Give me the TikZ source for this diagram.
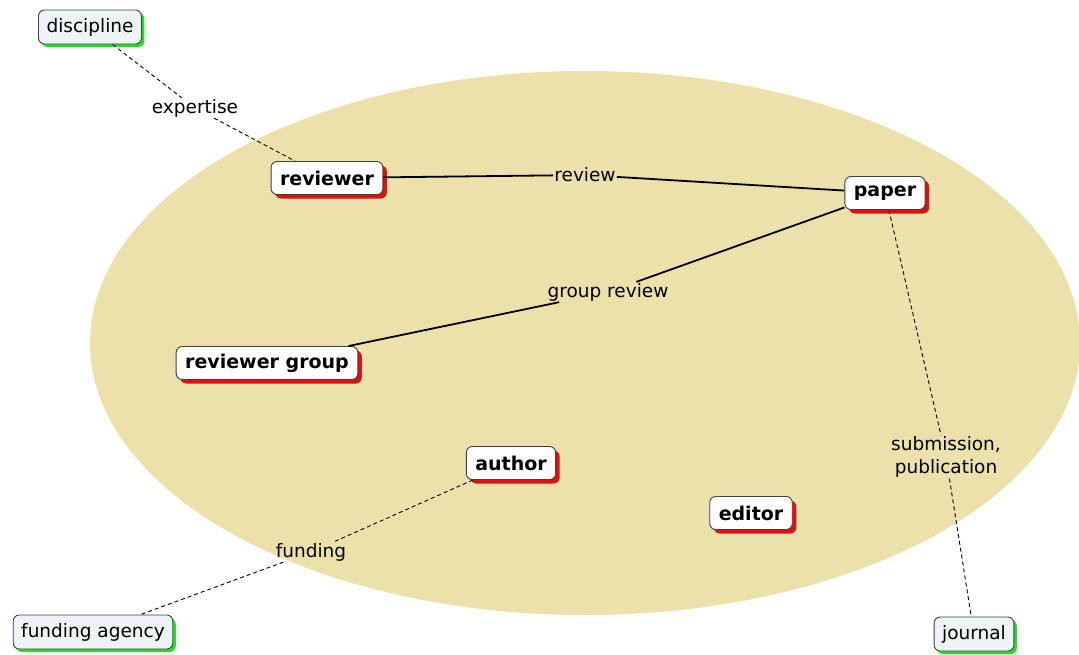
\documentclass[tikz,border=0pt]{standalone}
\usepackage{fontspec}
\setmainfont{DejaVu Sans}
\usetikzlibrary{shadows}
\definecolor{field}{HTML}{EDE1AB}
\definecolor{outerfill}{HTML}{EEF3F5}
\definecolor{edgegray}{HTML}{404040}
\definecolor{redshadow}{HTML}{E01010}
\definecolor{greenshadow}{HTML}{22E022}
\begin{document}
\begin{tikzpicture}[x=1pt,y=-1pt,
  every node/.style={font=\fontsize{18.5}{23}\selectfont},
  concept/.style={draw=edgegray, line width=0.9pt, rounded corners=6pt, fill=white,
    inner xsep=9pt, minimum height=33pt, font=\fontsize{19}{23}\selectfont\bfseries,
    drop shadow={fill=redshadow, opacity=1, shadow xshift=4pt, shadow yshift=-4pt}},
  external/.style={draw=edgegray, line width=0.9pt, rounded corners=6pt, fill=outerfill,
    inner xsep=8pt, minimum height=34pt,
    drop shadow={fill=greenshadow, opacity=1, shadow xshift=3pt, shadow yshift=-3pt}},
  linklabel/.style={inner sep=1pt, align=center},
  strong/.style={line width=1.8pt, black},
  weak/.style={line width=0.9pt, black, dash pattern=on 4pt off 3pt}]
\useasboundingbox (0,0) rectangle (1079,654);
% background area
\fill[field] (585,343) ellipse [x radius=495, y radius=272];

% nodes
\node[external] (discipline) at (90,27) {discipline};
\node[concept] (reviewer) at (327,178) {reviewer};
\node[concept] (paper) at (885,193) {paper};
\node[concept] (group) at (267,363) {reviewer group};
\node[concept] (author) at (511,463) {author};
\node[concept] (editor) at (751,513) {editor};
\node[external] (agency) at (93,632) {funding agency};
\node[external] (journal) at (974,634) {journal};

% link labels
\node[linklabel] (expertise) at (195,108) {expertise};
\node[linklabel] (review) at (585,175) {review};
\node[linklabel] (greview) at (608,292) {group review};
\node[linklabel] (submission) at (946,457) {submission,\\publication};
\node[linklabel] (funding) at (311,552) {funding};

% connectors
\draw[weak] (discipline) -- (expertise) -- (reviewer);
\draw[strong] (reviewer) -- (review) -- (paper);
\draw[strong] (group) -- (greview) -- (paper);
\draw[weak] (paper) -- (submission) -- (journal);
\draw[weak] (author) -- (funding) -- (agency);
\end{tikzpicture}
\end{document}
